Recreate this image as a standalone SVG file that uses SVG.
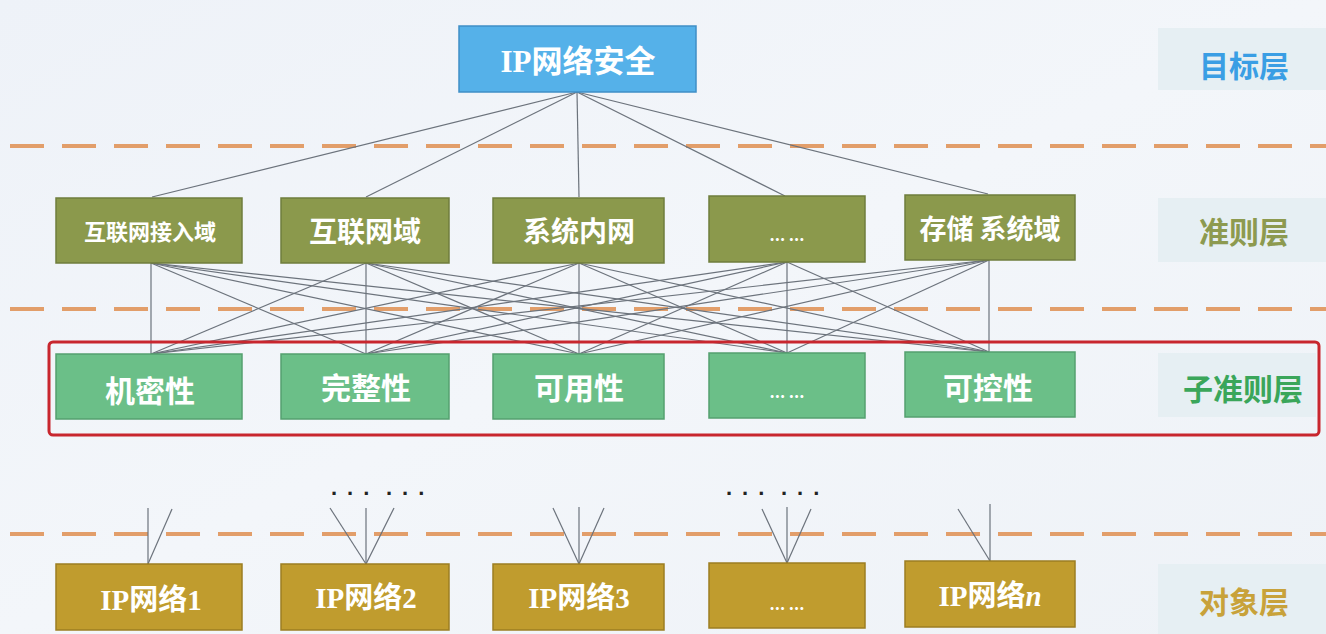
<svg xmlns="http://www.w3.org/2000/svg" width="1326" height="634" viewBox="0 0 1326 634">
<defs>
<linearGradient id="bg" x1="0" y1="0" x2="1" y2="1">
<stop offset="0" stop-color="#eef2f8"/>
<stop offset="0.5" stop-color="#f3f6fa"/>
<stop offset="1" stop-color="#eef2f7"/>
</linearGradient>
<style>
.dash{stroke:#e0955a;stroke-width:4;stroke-dasharray:34 18;fill:none;opacity:0.9}
.ln{stroke:#6c737c;stroke-width:1.2;fill:none}
.top{fill:#55b1e9;stroke:#3f8fc6;stroke-width:1.5}
.ol{fill:#8b994c;stroke:#6f7d3c;stroke-width:1.5}
.gr{fill:#6bbf88;stroke:#54a06f;stroke-width:1.5}
.gd{fill:#c09c2e;stroke:#9c7e22;stroke-width:1.5}
.panel{fill:#e6eff3}
.t{fill:#ffffff;font-weight:bold;text-anchor:middle;dominant-baseline:central;font-family:"Noto Sans CJK SC",sans-serif}
.ts{fill:#ffffff;font-weight:bold;text-anchor:middle;dominant-baseline:central;font-family:"Liberation Serif","Noto Sans CJK SC",serif}
.lab{font-weight:bold;text-anchor:middle;dominant-baseline:central;font-family:"Noto Sans CJK SC",sans-serif;font-size:30px}
.dots{fill:#222;font-family:"Liberation Sans",sans-serif;font-size:22px;font-weight:bold;letter-spacing:10px}
</style>
</defs>
<rect width="1326" height="634" fill="url(#bg)"/>

<g id="dashes">
<line class="dash" x1="10" y1="146" x2="1326" y2="146"/>
<line class="dash" x1="10" y1="309" x2="1326" y2="309"/>
<line class="dash" x1="10" y1="534" x2="1326" y2="534"/>
</g>

<g id="panels">
<rect class="panel" x="1158" y="28" width="168" height="62"/>
<text class="lab" x="1244" y="64" fill="#3a9ee4">目标层</text>
<rect class="panel" x="1158" y="198" width="168" height="64"/>
<text class="lab" x="1244" y="230" fill="#8d9a4f">准则层</text>
<rect class="panel" x="1158" y="353" width="158" height="64"/>
<text class="lab" x="1243" y="387" fill="#3aa65a">子准则层</text>
<rect class="panel" x="1158" y="564" width="168" height="70"/>
<text class="lab" x="1244" y="600" fill="#c8a23a">对象层</text>
</g>

<g id="connectors">
<line class="ln" x1="577" y1="92" x2="152" y2="197"/>
<line class="ln" x1="577" y1="92" x2="366" y2="197"/>
<line class="ln" x1="577" y1="92" x2="579" y2="197"/>
<line class="ln" x1="577" y1="92" x2="785" y2="196"/>
<line class="ln" x1="577" y1="92" x2="988" y2="194"/>

<line class="ln" x1="151" y1="263" x2="151" y2="354"/>
<line class="ln" x1="151" y1="263" x2="366" y2="354"/>
<line class="ln" x1="151" y1="263" x2="579" y2="354"/>
<line class="ln" x1="151" y1="263" x2="787" y2="353"/>
<line class="ln" x1="151" y1="263" x2="989" y2="352"/>
<line class="ln" x1="366" y1="263" x2="151" y2="354"/>
<line class="ln" x1="366" y1="263" x2="366" y2="354"/>
<line class="ln" x1="366" y1="263" x2="579" y2="354"/>
<line class="ln" x1="366" y1="263" x2="787" y2="353"/>
<line class="ln" x1="366" y1="263" x2="989" y2="352"/>
<line class="ln" x1="579" y1="263" x2="151" y2="354"/>
<line class="ln" x1="579" y1="263" x2="366" y2="354"/>
<line class="ln" x1="579" y1="263" x2="579" y2="354"/>
<line class="ln" x1="579" y1="263" x2="787" y2="353"/>
<line class="ln" x1="579" y1="263" x2="989" y2="352"/>
<line class="ln" x1="787" y1="262" x2="151" y2="354"/>
<line class="ln" x1="787" y1="262" x2="366" y2="354"/>
<line class="ln" x1="787" y1="262" x2="579" y2="354"/>
<line class="ln" x1="787" y1="262" x2="787" y2="353"/>
<line class="ln" x1="787" y1="262" x2="989" y2="352"/>
<line class="ln" x1="989" y1="260" x2="151" y2="354"/>
<line class="ln" x1="989" y1="260" x2="366" y2="354"/>
<line class="ln" x1="989" y1="260" x2="579" y2="354"/>
<line class="ln" x1="989" y1="260" x2="787" y2="353"/>
<line class="ln" x1="989" y1="260" x2="989" y2="352"/>

<line class="ln" x1="148" y1="508" x2="148" y2="564"/>
<line class="ln" x1="172" y1="509" x2="148" y2="564"/>
<line class="ln" x1="330" y1="508" x2="366" y2="564"/>
<line class="ln" x1="366" y1="508" x2="366" y2="564"/>
<line class="ln" x1="394" y1="508" x2="366" y2="564"/>
<line class="ln" x1="553" y1="508" x2="579" y2="564"/>
<line class="ln" x1="579" y1="507" x2="579" y2="564"/>
<line class="ln" x1="604" y1="508" x2="579" y2="564"/>
<line class="ln" x1="762" y1="509" x2="787" y2="563"/>
<line class="ln" x1="787" y1="507" x2="787" y2="563"/>
<line class="ln" x1="811" y1="509" x2="787" y2="563"/>
<line class="ln" x1="958" y1="509" x2="990" y2="561"/>
<line class="ln" x1="990" y1="504" x2="990" y2="561"/>
</g>

<g id="n-top">
<rect class="top" x="459" y="26" width="237" height="66"/>
<text class="ts" x="578" y="61" font-size="31">IP网络安全</text>
</g>

<g id="n-c1"><rect class="ol" x="56" y="198" width="186" height="65"/><text class="t" x="150" y="230" font-size="22">互联网接入域</text></g>
<g id="n-c2"><rect class="ol" x="281" y="198" width="168" height="65"/><text class="t" x="365" y="230" font-size="28">互联网域</text></g>
<g id="n-c3"><rect class="ol" x="493" y="198" width="171" height="65"/><text class="t" x="579" y="230" font-size="28">系统内网</text></g>
<g id="n-c4"><rect class="ol" x="709" y="196" width="156" height="66"/><text class="t" x="787" y="234" font-size="16">... ...</text></g>
<g id="n-c5"><rect class="ol" x="905" y="195" width="170" height="65"/><text class="t" x="990" y="227" font-size="27">存储 系统域</text></g>

<rect id="highlight" x="49" y="342" width="1270" height="93" rx="4" fill="none" stroke="#c8262e" stroke-width="3"/>

<g id="n-s1"><rect class="gr" x="56" y="354" width="186" height="65"/><text class="t" x="150" y="389" font-size="30">机密性</text></g>
<g id="n-s2"><rect class="gr" x="281" y="354" width="168" height="65"/><text class="t" x="366" y="386" font-size="30">完整性</text></g>
<g id="n-s3"><rect class="gr" x="493" y="354" width="171" height="65"/><text class="t" x="579" y="386" font-size="30">可用性</text></g>
<g id="n-s4"><rect class="gr" x="709" y="353" width="156" height="65"/><text class="t" x="787" y="391" font-size="16">... ...</text></g>
<g id="n-s5"><rect class="gr" x="905" y="352" width="170" height="65"/><text class="t" x="988" y="386" font-size="30">可控性</text></g>

<g id="dots">
<text class="dots" x="331" y="495">...</text>
<text class="dots" x="386" y="495">...</text>
<text class="dots" x="726" y="495">...</text>
<text class="dots" x="781" y="495">...</text>
</g>

<g id="n-o1"><rect class="gd" x="56" y="564" width="186" height="66"/><text class="ts" x="151" y="600" font-size="29">IP网络1</text></g>
<g id="n-o2"><rect class="gd" x="281" y="564" width="168" height="66"/><text class="ts" x="366" y="598" font-size="29">IP网络2</text></g>
<g id="n-o3"><rect class="gd" x="493" y="564" width="171" height="66"/><text class="ts" x="579" y="598" font-size="29">IP网络3</text></g>
<g id="n-o4"><rect class="gd" x="709" y="563" width="156" height="65"/><text class="t" x="787" y="603" font-size="16">... ...</text></g>
<g id="n-o5"><rect class="gd" x="905" y="561" width="170" height="66"/><text class="ts" x="990" y="596" font-size="29">IP网络<tspan font-style="italic">n</tspan></text></g>
</svg>
